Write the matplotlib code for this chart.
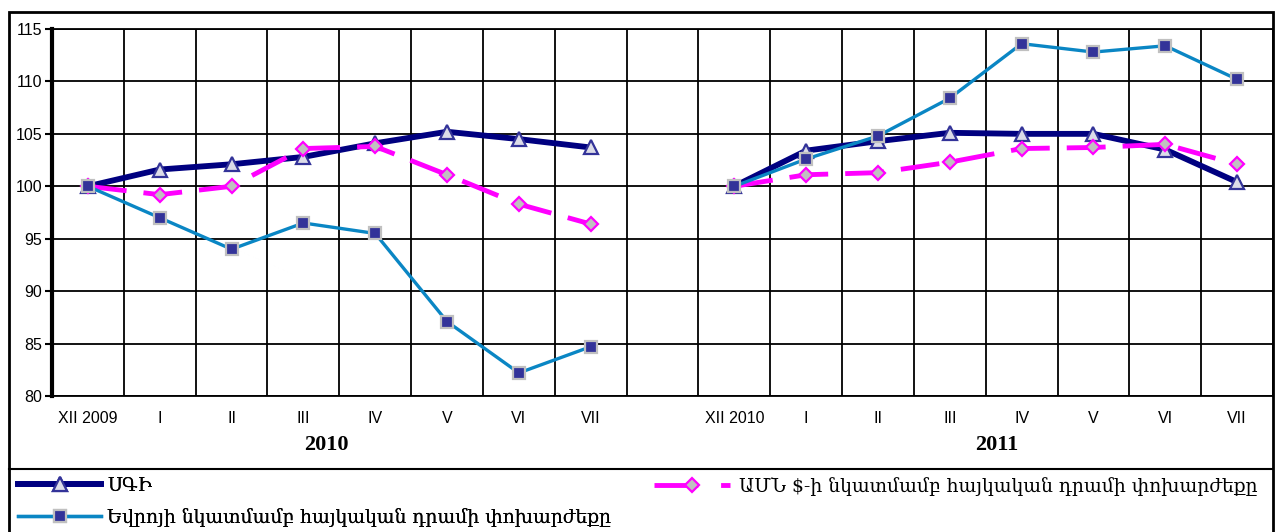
import matplotlib

matplotlib.use("Agg")
import matplotlib.pyplot as plt
import numpy as np
from matplotlib.lines import Line2D
from matplotlib.patches import Rectangle

# %% Data (index, previous December = 100)
months_2010 = ["XII 2009", "I", "II", "III", "IV", "V", "VI", "VII"]
months_2011 = ["XII 2010", "I", "II", "III", "IV", "V", "VI", "VII"]
categories = months_2010 + [""] + months_2011

cpi_2010 = [100.0, 101.6, 102.1, 102.8, 104.1, 105.2, 104.5, 103.7]
cpi_2011 = [100.0, 103.4, 104.3, 105.1, 105.0, 105.0, 103.5, 100.4]
usd_2010 = [100.0, 99.2, 100.0, 103.6, 103.8, 101.1, 98.3, 96.4]
usd_2011 = [100.0, 101.1, 101.3, 102.3, 103.6, 103.7, 104.0, 102.1]
eur_2010 = [100.0, 97.0, 94.0, 96.5, 95.5, 87.1, 82.2, 84.7]
eur_2011 = [100.0, 102.6, 104.8, 108.4, 113.6, 112.8, 113.4, 110.2]

years = ["2010", "2011"]
lbl_cpi = "ՍԳԻ"
lbl_usd = "ԱՄՆ $-ի նկատմամբ հայկական դրամի փոխարժեքը"
lbl_eur = "Եվրոյի նկատմամբ հայկական դրամի փոխարժեքը"


def join(a, b):
    return np.array(a + [np.nan] + b)


cpi = join(cpi_2010, cpi_2011)
usd = join(usd_2010, usd_2011)
eur = join(eur_2010, eur_2011)
x = np.arange(len(categories))

# %% Figure
W, H = 1279, 532
fig = plt.figure(figsize=(W / 100, H / 100), dpi=100)
ax = fig.add_axes([52 / W, 1 - 396 / H, (1273 - 52) / W, (396 - 29) / H])

NAVY = "#000080"
BLUE = "#0A86C4"
MAG = "#FF00FF"
usd_dash = (0, (8, 3.5))

cpi_style = dict(color=NAVY, lw=4.2, marker="^", ms=9.5, mfc="#DCDCE8", mec="#333399", mew=1.6)
usd_style = dict(color=MAG, lw=3.5, marker="D", ms=7.5, mfc="#C0C0C0", mec=MAG, mew=1.6)
eur_style = dict(color=BLUE, lw=2.4, marker="s", ms=8, mfc="#333399", mec="#C0C0C0", mew=1.6)

ax.plot(x, cpi, **cpi_style, zorder=3)
ax.plot(x, usd, ls=usd_dash, **usd_style, zorder=4)
ax.plot(x, eur, **eur_style, zorder=5)

ax.set_xlim(-0.5, len(categories) - 0.5)
ax.set_ylim(80, 115)
ax.set_yticks(np.arange(80, 116, 5))
ax.set_xticks(x)
ax.set_xticklabels(categories, fontfamily="Liberation Sans", fontsize=11.5)
ax.set_xticks(np.arange(0.5, len(categories) - 0.5), minor=True)
ax.tick_params(axis="x", which="both", length=0, pad=11)
ax.tick_params(axis="y", length=5, width=1.5, pad=2, labelsize=11.5)
for t in ax.get_yticklabels():
    t.set_fontfamily("Liberation Sans")
ax.grid(axis="y", which="major", color="black", lw=1.3)
ax.grid(axis="x", which="minor", color="black", lw=1.3)
ax.set_axisbelow(True)
ax.spines["left"].set_linewidth(3)
for s in ("top", "bottom", "right"):
    ax.spines[s].set_linewidth(1.3)

# year captions under the month labels
for xpos, yr in zip([3.32, 12.66], years):
    ax.text(xpos, -0.133, yr, transform=ax.get_xaxis_transform(), ha="center", va="center",
            fontfamily="Liberation Serif", fontweight="bold", fontsize=16)

# outer frame and the line above the legend
fig.add_artist(Rectangle((9 / W, -0.02), (1273 - 9) / W, 0.02 + 1 - 12 / H,
                         transform=fig.transFigure, fill=False, lw=2, color="black"))
fig.add_artist(Line2D([9 / W, 1273 / W], [1 - 469 / H] * 2, transform=fig.transFigure,
                      color="black", lw=1.5))

# %% Legend
leg_font = dict(family=["DejaVu Serif", "DejaVu Sans"], size=13.5)
h_cpi = Line2D([], [], **cpi_style)
h_eur = Line2D([], [], **eur_style)
h_usd = Line2D([], [], ls=(0, (9, 4.7)), **usd_style)
leg1 = fig.legend([h_cpi, h_eur], [lbl_cpi, lbl_eur], loc="upper left",
                  bbox_to_anchor=(18 / W, 1 - 477 / H), frameon=False, prop=leg_font,
                  handlelength=4.45, handletextpad=0.3, labelspacing=0.7,
                  borderpad=0, borderaxespad=0, numpoints=1)
fig.legend([h_usd], [lbl_usd], loc="upper left", bbox_to_anchor=(654 / W, 1 - 477 / H),
           frameon=False, prop=leg_font, handlelength=4.05, handletextpad=0.5,
           borderpad=0, borderaxespad=0, numpoints=1)
fig.add_artist(leg1)

fig.savefig("out.png", dpi=100)
